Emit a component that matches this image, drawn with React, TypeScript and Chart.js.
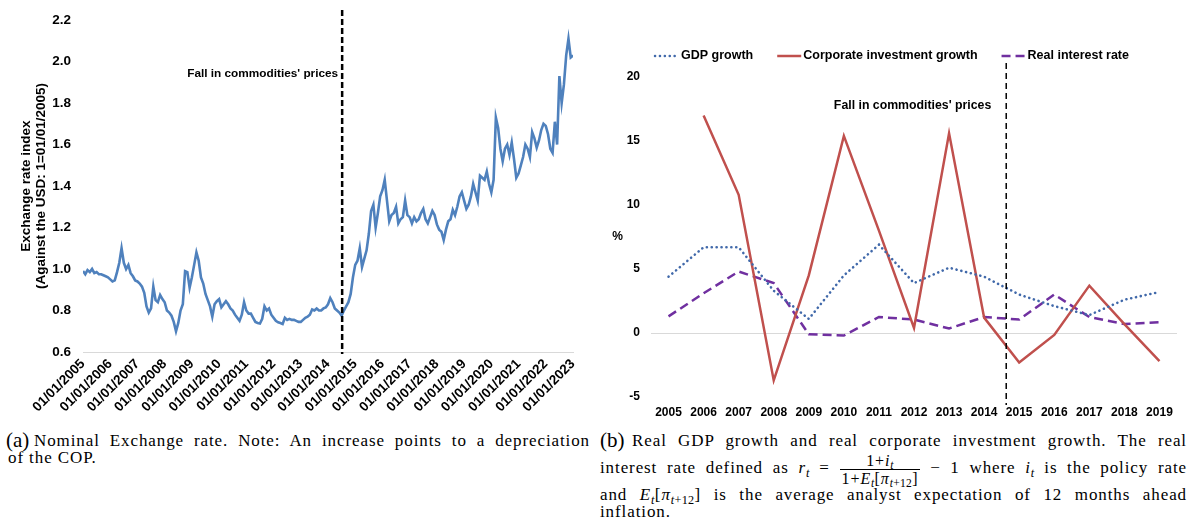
import React, { useEffect, useRef } from 'react';
import { Chart, registerables } from 'chart.js';

Chart.register(...registerables);

// ---------- Panel (a): nominal COP/USD exchange-rate index (1 = 01/01/2005), monthly ----------
const fxStartYear = 2005;
const fx2005 = [0.99, 0.975, 0.995, 0.985, 1.0, 0.98, 0.985, 0.975, 0.975, 0.97, 0.965, 0.96];
const fx2006 = [0.95, 0.94, 0.945, 0.985, 1.03, 1.1, 1.03, 1.0, 1.02, 0.98, 0.965, 0.945];
const fx2007 = [0.94, 0.93, 0.915, 0.885, 0.82, 0.79, 0.81, 0.915, 0.85, 0.84, 0.875, 0.855];
const fx2008 = [0.84, 0.8, 0.79, 0.775, 0.745, 0.7, 0.74, 0.8, 0.83, 0.99, 0.985, 0.91];
const fx2009 = [0.96, 1.02, 1.08, 1.04, 0.96, 0.93, 0.88, 0.85, 0.82, 0.77, 0.83, 0.845];
const fx2010 = [0.855, 0.815, 0.83, 0.845, 0.83, 0.81, 0.8, 0.78, 0.765, 0.75, 0.78, 0.84];
const fx2011 = [0.8, 0.785, 0.785, 0.765, 0.745, 0.74, 0.737, 0.76, 0.82, 0.8, 0.81, 0.78];
const fx2012 = [0.765, 0.75, 0.743, 0.74, 0.735, 0.765, 0.755, 0.76, 0.755, 0.755, 0.75, 0.745];
const fx2013 = [0.745, 0.755, 0.765, 0.77, 0.78, 0.805, 0.8, 0.81, 0.8, 0.8, 0.81, 0.815];
const fx2014 = [0.83, 0.86, 0.84, 0.81, 0.8, 0.79, 0.775, 0.8, 0.82, 0.84, 0.88, 0.96];
const fx2015 = [1.02, 1.04, 1.1, 1.01, 1.05, 1.09, 1.17, 1.28, 1.31, 1.2, 1.27, 1.35];
const fx2016 = [1.38, 1.43, 1.33, 1.23, 1.26, 1.27, 1.3, 1.22, 1.24, 1.25, 1.33, 1.26];
const fx2017 = [1.25, 1.22, 1.25, 1.23, 1.24, 1.27, 1.29, 1.24, 1.22, 1.25, 1.28, 1.26];
const fx2018 = [1.215, 1.19, 1.18, 1.14, 1.19, 1.23, 1.24, 1.285, 1.26, 1.3, 1.35, 1.37];
const fx2019 = [1.33, 1.29, 1.31, 1.35, 1.41, 1.37, 1.33, 1.45, 1.44, 1.43, 1.47, 1.41];
const fx2020 = [1.37, 1.43, 1.73, 1.68, 1.58, 1.52, 1.58, 1.6, 1.55, 1.61, 1.53, 1.44];
const fx2021 = [1.46, 1.5, 1.54, 1.6, 1.58, 1.54, 1.66, 1.63, 1.585, 1.62, 1.67, 1.7];
const fx2022 = [1.69, 1.65, 1.58, 1.56, 1.71, 1.6, 1.93, 1.8, 1.89, 2.03, 2.11, 2.02];
const fx2023 = [2.03];

const fxTickYears = [
  2005, 2006, 2007, 2008, 2009, 2010, 2011, 2012, 2013, 2014,
  2015, 2016, 2017, 2018, 2019, 2020, 2021, 2022, 2023,
];
const fxAxisTitle = ['Exchange rate index', '(Against the USD: 1=01/01/2005)'];
const commodityFallDate = 2014.52; // mid-2014
const commodityFallLabel = "Fall in commodities' prices";
const fxLabelLevel = 1.94;

// ---------- Panel (b): annual growth rates and real interest rate, % ----------
const years = ['2005', '2006', '2007', '2008', '2009', '2010', '2011', '2012', '2013', '2014', '2015', '2016', '2017', '2018', '2019'];
const gdpGrowth = [4.4, 6.7, 6.7, 3.3, 1.1, 4.5, 6.9, 3.9, 5.1, 4.4, 3.0, 2.1, 1.4, 2.6, 3.2];
const corporateInvestmentGrowth = [null, 17.0, 10.8, -3.7, 4.5, 15.4, 8.0, 0.4, 15.6, 1.2, -2.3, -0.15, 3.7, 0.7, -2.2];
const realInterestRate = [1.3, 3.1, 4.8, 3.9, -0.1, -0.2, 1.25, 1.05, 0.35, 1.25, 1.05, 3.0, 1.25, 0.7, 0.85];
const seriesNames = ['GDP growth', 'Corporate investment growth', 'Real interest rate'];
const growthFallIndex = 9.63; // between 2014 and 2015
const growthLabelLevel = 17.8;

const SANS = "'Liberation Sans', Arial, sans-serif";
const SERIF = "'Liberation Serif', 'DejaVu Serif', serif";

const fxSeries = [
  fx2005, fx2006, fx2007, fx2008, fx2009, fx2010, fx2011, fx2012, fx2013,
  fx2014, fx2015, fx2016, fx2017, fx2018, fx2019, fx2020, fx2021, fx2022, fx2023,
].flat();

const fxOverlay = {
  id: 'fxOverlay',
  afterDatasetsDraw(chart: any) {
    const { ctx, chartArea, scales } = chart;
    const x = scales.x.getPixelForValue(commodityFallDate);
    ctx.save();
    ctx.strokeStyle = '#000';
    ctx.lineWidth = 2.5;
    ctx.setLineDash([6, 3]);
    ctx.beginPath();
    ctx.moveTo(x, chartArea.top - 10);
    ctx.lineTo(x, chartArea.bottom + 2);
    ctx.stroke();
    ctx.setLineDash([]);
    ctx.fillStyle = '#000';
    ctx.font = `bold 11.8px ${SANS}`;
    ctx.textAlign = 'right';
    ctx.textBaseline = 'middle';
    ctx.fillText(commodityFallLabel, x - 4, scales.y.getPixelForValue(fxLabelLevel));
    const cy = (chartArea.top + chartArea.bottom) / 2;
    ctx.font = `bold 13.5px ${SANS}`;
    ctx.textAlign = 'center';
    ctx.translate(26, cy);
    ctx.rotate(-Math.PI / 2);
    ctx.fillText(fxAxisTitle[0], 0, 0);
    ctx.fillText(fxAxisTitle[1], 0, 15.5);
    ctx.restore();
  },
};

const growthColors = ['#4169AA', '#C0504D', '#7030A0'];
const growthDashes = [[0.1, 4.8], [], [9, 5]];

const growthOverlay = {
  id: 'growthOverlay',
  afterDatasetsDraw(chart: any) {
    const { ctx, chartArea, scales } = chart;
    const x = scales.x.getPixelForValue(growthFallIndex);
    ctx.save();
    ctx.strokeStyle = '#000';
    ctx.lineWidth = 1.5;
    ctx.setLineDash([6, 4]);
    ctx.beginPath();
    ctx.moveTo(x, chartArea.top - 14);
    ctx.lineTo(x, chartArea.bottom + 8);
    ctx.stroke();
    ctx.setLineDash([]);
    ctx.fillStyle = '#000';
    ctx.font = `bold 12.3px ${SANS}`;
    ctx.textAlign = 'right';
    ctx.textBaseline = 'middle';
    ctx.fillText(commodityFallLabel, x - 15, scales.y.getPixelForValue(growthLabelLevel));

    // "%" axis label
    ctx.textAlign = 'center';
    ctx.font = `bold 12px ${SANS}`;
    ctx.fillText('%', chartArea.left - 33.5, (chartArea.top + chartArea.bottom) / 2);

    // legend
    ctx.font = `bold 12.5px ${SANS}`;
    ctx.textAlign = 'left';
    const ly = chartArea.top - 21;
    let lx = chartArea.left + 4;
    seriesNames.forEach((name, i) => {
      ctx.strokeStyle = growthColors[i];
      ctx.lineWidth = 2.5;
      ctx.lineCap = i === 0 ? 'round' : 'butt';
      ctx.setLineDash(growthDashes[i]);
      ctx.beginPath();
      ctx.moveTo(lx, ly);
      ctx.lineTo(lx + 24, ly);
      ctx.stroke();
      ctx.setLineDash([]);
      ctx.fillText(name, lx + 26, ly);
      lx += 26 + ctx.measureText(name).width + 24;
    });
    ctx.restore();
  },
};

function ExchangeRateChart() {
  const ref = useRef<HTMLCanvasElement>(null);
  useEffect(() => {
    const chart = new Chart(ref.current as HTMLCanvasElement, {
      type: 'line',
      data: {
        datasets: [
          {
            data: fxSeries.map((v, i) => ({ x: fxStartYear + i / 12, y: v })),
            borderColor: '#4F81BD',
            borderWidth: 2.6,
            pointRadius: 0,
            tension: 0,
          },
        ],
      },
      options: {
        animation: false,
        responsive: false,
        layout: { padding: { left: 0, right: 27, top: 13, bottom: 0 } },
        plugins: { legend: { display: false }, tooltip: { enabled: false } },
        scales: {
          x: {
            type: 'linear',
            min: 2005,
            max: 2023,
            afterBuildTicks: (s: any) => {
              s.ticks = fxTickYears.map((v) => ({ value: v }));
            },
            afterFit: (s: any) => {
              s.height = 73;
            },
            grid: { display: false, drawTicks: false },
            border: { display: true, color: '#d9d9d9', width: 1 },
            ticks: {
              autoSkip: false,
              minRotation: 45,
              maxRotation: 45,
              padding: 4,
              color: '#000',
              font: { family: SANS, size: 13.5, weight: 'bold' },
              callback: (v: any) => '01/01/' + v,
            },
          },
          y: {
            min: 0.6,
            max: 2.2,
            afterFit: (s: any) => {
              s.width = 83;
            },
            grid: { display: false, drawTicks: false },
            border: { display: false },
            ticks: {
              stepSize: 0.2,
              padding: 12,
              color: '#000',
              font: { family: SANS, size: 13.5, weight: 'bold' },
              callback: (v: any) => Number(v).toFixed(1),
            },
          },
        },
      },
      plugins: [fxOverlay],
    } as any);
    return () => chart.destroy();
  }, []);
  return <canvas ref={ref} width={600} height={425} style={{ position: 'absolute', left: 0, top: 0, width: 600, height: 425 }} />;
}

function GrowthChart() {
  const ref = useRef<HTMLCanvasElement>(null);
  useEffect(() => {
    const chart = new Chart(ref.current as HTMLCanvasElement, {
      type: 'line',
      data: {
        labels: years,
        datasets: [
          {
            label: seriesNames[0],
            data: gdpGrowth,
            borderColor: growthColors[0],
            borderWidth: 2.6,
            borderDash: growthDashes[0],
            borderCapStyle: 'round',
            pointRadius: 0,
          },
          {
            label: seriesNames[1],
            data: corporateInvestmentGrowth,
            borderColor: growthColors[1],
            borderWidth: 2.5,
            pointRadius: 0,
          },
          {
            label: seriesNames[2],
            data: realInterestRate,
            borderColor: growthColors[2],
            borderWidth: 2.5,
            borderDash: growthDashes[2],
            pointRadius: 0,
          },
        ],
      },
      options: {
        animation: false,
        responsive: false,
        layout: { padding: { left: 0, right: 16, top: 77, bottom: 0 } },
        plugins: { legend: { display: false }, tooltip: { enabled: false } },
        scales: {
          x: {
            offset: true,
            afterFit: (s: any) => {
              s.height = 28;
            },
            grid: { display: false, drawTicks: false },
            border: { display: false },
            ticks: {
              padding: 8,
              color: '#000',
              maxRotation: 0,
              autoSkip: false,
              font: { family: SANS, size: 12, weight: 'bold' },
            },
          },
          y: {
            min: -5,
            max: 20,
            afterFit: (s: any) => {
              s.width = 51;
            },
            grid: {
              drawTicks: false,
              color: (c: any) => (c.tick && c.tick.value === 0 ? '#d9d9d9' : 'rgba(0,0,0,0)'),
            },
            border: { display: false },
            ticks: {
              stepSize: 5,
              padding: 11,
              color: '#000',
              font: { family: SANS, size: 12, weight: 'bold' },
            },
          },
        },
      },
      plugins: [growthOverlay],
    } as any);
    return () => chart.destroy();
  }, []);
  return <canvas ref={ref} width={593} height={425} style={{ position: 'absolute', left: 600, top: 0, width: 593, height: 425 }} />;
}

const lineBase: React.CSSProperties = {
  position: 'absolute',
  fontFamily: SERIF,
  fontSize: 17,
  lineHeight: '20px',
  letterSpacing: 0.9,
  color: '#000',
  whiteSpace: 'normal',
};
const justified: React.CSSProperties = { textAlign: 'justify', textAlignLast: 'justify' as any };
const tag: React.CSSProperties = { ...lineBase, fontSize: 21, lineHeight: '24px', letterSpacing: 0 };

function Sub({ children }: { children: React.ReactNode }) {
  return <sub style={{ fontSize: '0.72em', verticalAlign: '-0.3em', lineHeight: 0, letterSpacing: 0.3 }}>{children}</sub>;
}

export default function App() {
  return (
    <div style={{ position: 'absolute', left: 0, top: 0, width: 1193, height: 523, background: '#fff', overflow: 'hidden' }}>
      <ExchangeRateChart />
      <GrowthChart />

      {/* caption (a) */}
      <div style={{ ...tag, left: 6, top: 428 }}>(a)</div>
      <div style={{ ...lineBase, ...justified, left: 34, top: 431, width: 556 }}>
        Nominal Exchange rate. Note: An increase points to a depreciation
      </div>
      <div style={{ ...lineBase, left: 8, top: 448 }}>of the COP.</div>

      {/* caption (b) */}
      <div style={{ ...tag, left: 600, top: 428 }}>(b)</div>
      <div style={{ ...lineBase, ...justified, left: 632, top: 431, width: 555 }}>
        Real GDP growth and real corporate investment growth. The real
      </div>
      <div style={{ ...lineBase, ...justified, left: 600, top: 450, width: 587, lineHeight: '36px' }}>
        interest rate defined as <i>r</i>
        <Sub><i>t</i></Sub> ={' '}
        <span
          style={{
            display: 'inline-flex',
            flexDirection: 'column',
            alignItems: 'center',
            verticalAlign: 'middle',
            lineHeight: '15px',
            fontSize: 16,
            textAlignLast: 'center' as any,
          }}
        >
          <span style={{ paddingBottom: 1 }}>
            1+<i>i</i>
            <Sub><i>t</i></Sub>
          </span>
          <span style={{ borderTop: '1px solid #000', padding: '1px 2px 0' }}>
            1+<i>E</i>
            <Sub><i>t</i></Sub>[<i>π</i>
            <Sub><i>t</i>+12</Sub>]
          </span>
        </span>{' '}
        − 1 where <i>i</i>
        <Sub><i>t</i></Sub> is the policy rate
      </div>
      <div style={{ ...lineBase, ...justified, left: 600, top: 485, width: 587 }}>
        and <i>E</i>
        <Sub><i>t</i></Sub>[<i>π</i>
        <Sub><i>t</i>+12</Sub>] is the average analyst expectation of 12 months ahead
      </div>
      <div style={{ ...lineBase, left: 600, top: 502 }}>inflation.</div>
    </div>
  );
}
